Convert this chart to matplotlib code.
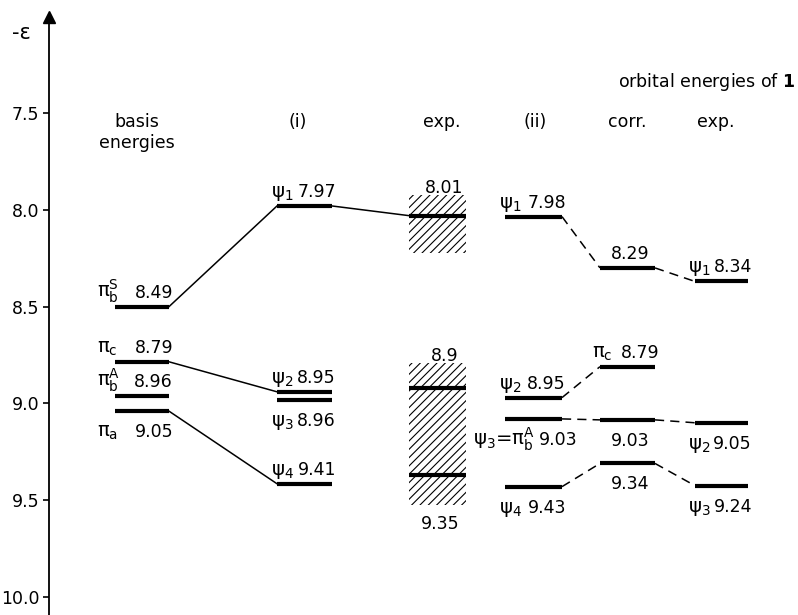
import matplotlib
matplotlib.use("Agg")
import matplotlib.pyplot as plt
from matplotlib.patches import Rectangle

plt.rcParams["font.family"] = "DejaVu Sans"
plt.rcParams["mathtext.fontset"] = "dejavusans"
plt.rcParams["mathtext.default"] = "regular"
plt.rcParams["hatch.linewidth"] = 0.8

# ==========================================
# data: level energies (as drawn) and label texts
# ==========================================
basis_E = [8.50, 8.785, 8.96, 9.04]
basis_sym = [r"$\pi_b^S$", r"$\pi_c$", r"$\pi_b^A$", r"$\pi_a$"]
basis_val = ["8.49", "8.79", "8.96", "9.05"]
basis_side = ["above", "above", "above", "below"]

i_E = [7.98, 8.94, 8.98, 9.415]
i_sym = [r"$\psi_1$", r"$\psi_2$", r"$\psi_3$", r"$\psi_4$"]
i_val = ["7.97", "8.95", "8.96", "9.41"]
i_side = ["above", "above", "below", "above"]

exp_box_lo = [7.925, 8.79]
exp_box_hi = [8.225, 9.525]
exp_box_top = ["8.01", "8.9"]
exp_box_bottom = ["", "9.35"]
exp_E = [8.03, 8.92, 9.37]

ii_E = [8.035, 8.97, 9.08, 9.43]
ii_sym = [r"$\psi_1$", r"$\psi_2$", r"$\psi_3$=$\pi_b^A$", r"$\psi_4$"]
ii_val = ["7.98", "8.95", "9.03", "9.43"]
ii_side = ["above", "above", "below", "below"]

corr_E = [8.30, 8.81, 9.085, 9.31]
corr_sym = ["", r"$\pi_c$", "", ""]
corr_val = ["8.29", "8.79", "9.03", "9.34"]
corr_side = ["above", "above", "below", "below"]

expr_E = [8.37, 9.10, 9.425]
expr_sym = [r"$\psi_1$", r"$\psi_2$", r"$\psi_3$"]
expr_val = ["8.34", "9.05", "9.24"]
expr_side = ["above", "below", "below"]

headers = ["(i)", "exp.", "(ii)", "corr.", "exp."]
yticks = [7.5, 8.0, 8.5, 9.0, 9.5, 10.0]

solid_links = [("basis", 0, "i", 0), ("i", 0, "exp", 0),
               ("basis", 1, "i", 1), ("basis", 3, "i", 3)]
dashed_links = [("ii", 0, "corr", 0), ("corr", 0, "expr", 0),
                ("ii", 1, "corr", 1),
                ("ii", 2, "corr", 2), ("corr", 2, "expr", 1),
                ("ii", 3, "corr", 3), ("corr", 3, "expr", 2)]

# ==========================================
# layout (x in pixel-like units, 0..798)
# ==========================================
cols = {"basis": (115, 169), "i": (277, 332), "exp": (409, 466),
        "ii": (505, 562), "corr": (600, 655), "expr": (695, 748)}
sym_dx = {"basis": -18, "i": -6, "ii": -6, "corr": -8, "expr": -7}
levels = {"basis": basis_E, "i": i_E, "exp": exp_E, "ii": ii_E,
          "corr": corr_E, "expr": expr_E}
header_x = [298, 442, 535, 627, 716]
FS = 12.5
FS_SYM = 14

fig = plt.figure(figsize=(7.98, 6.15), dpi=100)
ax = fig.add_axes([0, 0, 1, 1])
ax.set_xlim(0, 798)
ax.set_ylim(10.093, 6.916)
for s in ["top", "right", "bottom"]:
    ax.spines[s].set_visible(False)
ax.spines["left"].set_position(("data", 49))
ax.spines["left"].set_linewidth(1.3)
ax.spines["left"].set_bounds(10.093, 6.99)
ax.set_xticks([])
ax.set_yticks(yticks)
ax.set_yticklabels([f"{v:.1f}" for v in yticks])
ax.tick_params(axis="y", direction="out", length=4, width=1.2, labelsize=FS, pad=3)
ax.plot(49, 1 - 17 / 615, marker="^", ms=9, color="k", clip_on=False,
        transform=ax.get_xaxis_transform())
ax.text(12, 1 - 33 / 615, "-ε", fontsize=15, ha="left", va="center",
        transform=ax.get_xaxis_transform())

# headers
ht = ax.get_xaxis_transform()
ax.text(137, 1 - 122 / 615, "basis", fontsize=FS, ha="center", va="center", transform=ht)
ax.text(137, 1 - 143 / 615, "energies", fontsize=FS, ha="center", va="center", transform=ht)
for hx, h in zip(header_x, headers):
    ax.text(hx, 1 - 122 / 615, h, fontsize=FS, ha="center", va="center", transform=ht)
ax.text(795, 1 - 82 / 615, r"orbital energies of $\mathbf{1}$", fontsize=FS,
        ha="right", va="center", transform=ht)

# hatched exp. boxes
x0, x1 = cols["exp"]
for lo, hi, tl, bl in zip(exp_box_lo, exp_box_hi, exp_box_top, exp_box_bottom):
    ax.add_patch(Rectangle((x0, lo), x1 - x0, hi - lo, facecolor="none",
                           edgecolor="k", hatch="////", linewidth=0))
    ax.annotate(tl, xy=((x0 + x1) / 2 + 7, lo), xytext=(0, 1.5),
                textcoords="offset points", ha="center", va="baseline", fontsize=FS)
    if bl:
        ax.annotate(bl, xy=((x0 + x1) / 2 + 3, hi), xytext=(0, -17),
                    textcoords="offset points", ha="center", va="baseline", fontsize=FS)

# level lines
for name, E in levels.items():
    x0, x1 = cols[name]
    for e in E:
        ax.plot([x0, x1], [e, e], color="k", lw=3, solid_capstyle="butt")

# links
for c1, k1, c2, k2 in solid_links:
    ax.plot([cols[c1][1], cols[c2][0]], [levels[c1][k1], levels[c2][k2]],
            color="k", lw=1.1)
for c1, k1, c2, k2 in dashed_links:
    ax.plot([cols[c1][1], cols[c2][0]], [levels[c1][k1], levels[c2][k2]],
            color="k", lw=1.1, dashes=(6, 4))

# labels
labelled = [("basis", basis_E, basis_sym, basis_val, basis_side),
            ("i", i_E, i_sym, i_val, i_side),
            ("ii", ii_E, ii_sym, ii_val, ii_side),
            ("corr", corr_E, corr_sym, corr_val, corr_side),
            ("expr", expr_E, expr_sym, expr_val, expr_side)]
for name, E, syms, vals, sides in labelled:
    x0, x1 = cols[name]
    for k, (e, sy, v, sd) in enumerate(zip(E, syms, vals, sides)):
        dy = 6.5 if sd == "above" else -18.7
        sdx, vdx = sym_dx[name], 4
        if "=" in sy:
            sdx, vdx = -32, 16
        if sy:
            ax.annotate(sy, xy=(x0 + sdx, e), xytext=(0, dy), textcoords="offset points",
                        ha="left", va="baseline", fontsize=FS_SYM)
            ax.annotate(v, xy=(x1 + vdx, e), xytext=(0, dy), textcoords="offset points",
                        ha="right", va="baseline", fontsize=FS)
        else:
            ax.annotate(v, xy=((x0 + x1) / 2 + 3, e), xytext=(0, dy),
                        textcoords="offset points", ha="center", va="baseline", fontsize=FS)

fig.savefig("out.png", dpi=100)
